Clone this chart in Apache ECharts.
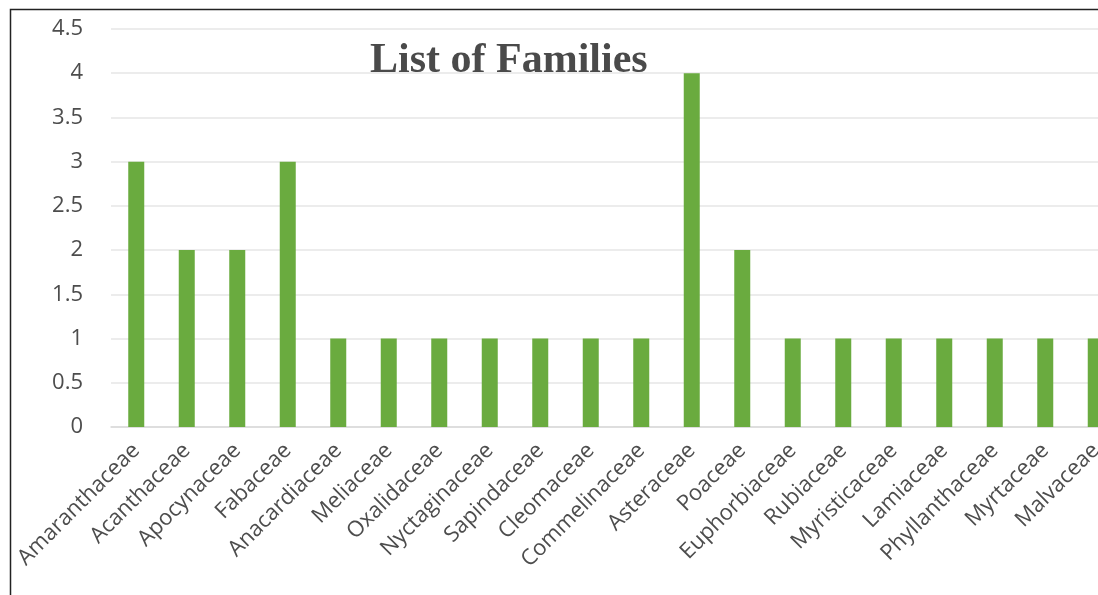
<!DOCTYPE html>
<html>
<head>
<meta charset="utf-8">
<title>List of Families</title>
<script src="https://cdn.jsdelivr.net/npm/echarts@6/dist/echarts.min.js"></script>
<style>
  html, body { margin: 0; padding: 0; background: #fff; }
  #chart { width: 1098px; height: 595px; }
</style>
</head>
<body>
<div id="chart"></div>
<script>
// 科名
const families = [
  'Amaranthaceae', 'Acanthaceae', 'Apocynaceae', 'Fabaceae', 'Anacardiaceae',
  'Meliaceae', 'Oxalidaceae', 'Nyctaginaceae', 'Sapindaceae', 'Cleomaceae',
  'Commelinaceae', 'Asteraceae', 'Poaceae', 'Euphorbiaceae', 'Rubiaceae',
  'Myristicaceae', 'Lamiaceae', 'Phyllanthaceae', 'Myrtaceae', 'Malvaceae'
];
// 每个科的数量
const counts = [3, 2, 2, 3, 1, 1, 1, 1, 1, 1, 1, 4, 2, 1, 1, 1, 1, 1, 1, 1];
// y轴范围
const yMin = 0;
const yMax = 4.5;
const yStep = 0.5;

const chart = echarts.init(document.getElementById('chart'));

chart.setOption({
  animation: false,
  title: {
    text: 'List of Families',
    left: 365,
    top: 35,
    textStyle: {
      fontFamily: '"Liberation Serif", "DejaVu Serif", serif',
      fontWeight: 'bold',
      fontSize: 42,
      color: '#4a4a4a'
    }
  },
  grid: {
    left: 111,
    top: 29,
    width: 1010,
    height: 398,
    containLabel: false,
    outerBoundsMode: 'none'
  },
  xAxis: {
    type: 'category',
    data: families,
    axisLine: { show: true, lineStyle: { color: '#d9d9d9', width: 1.5 } },
    axisTick: { show: false },
    axisLabel: {
      rotate: 45,
      interval: 0,
      margin: 20,
      fontFamily: '"Open Sans", sans-serif',
      fontSize: 22,
      color: '#4d4d4d'
    }
  },
  yAxis: {
    type: 'value',
    min: yMin,
    max: yMax,
    interval: yStep,
    axisLine: { show: false },
    axisTick: { show: false },
    splitLine: { lineStyle: { color: '#e6e6e6', width: 1.5 } },
    axisLabel: {
      margin: 28,
      fontFamily: '"Open Sans", sans-serif',
      fontSize: 22,
      color: '#4d4d4d'
    }
  },
  series: [
    {
      type: 'bar',
      data: counts,
      barWidth: 16,
      itemStyle: { color: '#6aab3f' }
    }
  ],
  graphic: [
    {
      type: 'rect',
      shape: { x: 10.5, y: 9.5, width: 1200, height: 700 },
      style: { fill: null, stroke: '#222', lineWidth: 1.5 },
      silent: true
    }
  ]
});
</script>
</body>
</html>
